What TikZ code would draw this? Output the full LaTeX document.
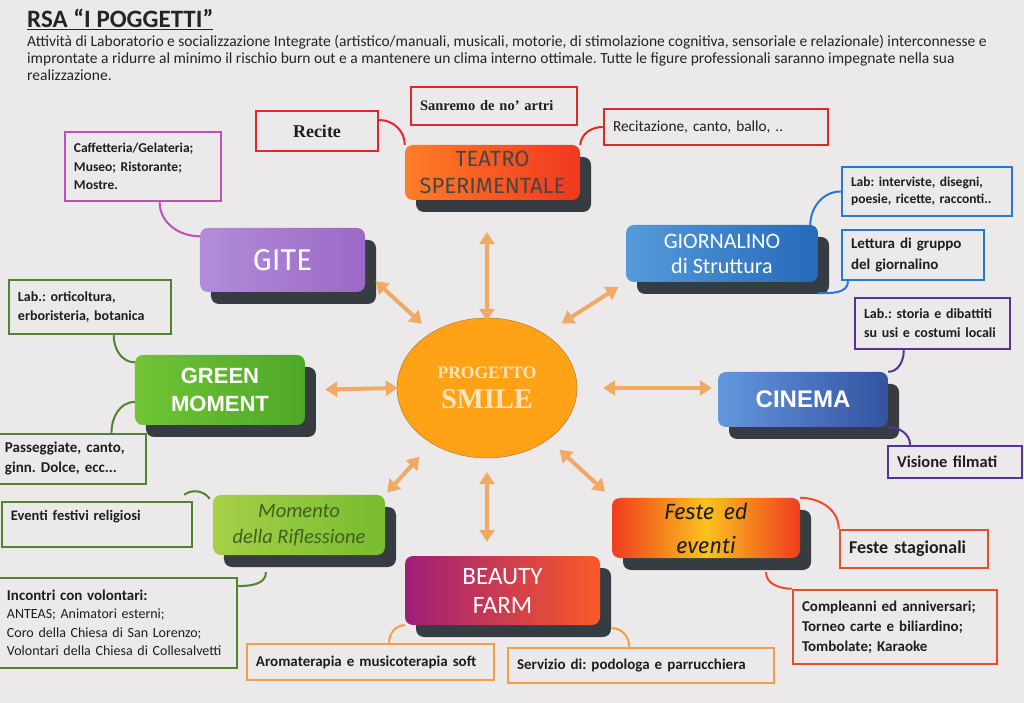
\documentclass[tikz,border=0pt]{standalone}
\usepackage{fontspec}
\setmainfont{Carlito}
\newfontfamily\timesf{Liberation Serif}
\newfontfamily\arialf{Liberation Sans}
\newfontfamily\comicf{Fira Sans}
\usepackage{tikz}
\usetikzlibrary{shapes.geometric, arrows.meta, shadows}
\frenchspacing

\definecolor{paper}{RGB}{236,233,234}
\definecolor{titletext}{RGB}{35,35,40}
\definecolor{notetext}{RGB}{30,30,30}
\definecolor{shadowgray}{RGB}{55,60,66}
\definecolor{hubfill}{RGB}{255,162,22}
\definecolor{hubline}{RGB}{170,110,50}
\definecolor{hubtext}{RGB}{253,228,192}
\definecolor{arroworange}{RGB}{240,170,100}
\definecolor{teatroL}{RGB}{255,125,40}
\definecolor{teatroR}{RGB}{240,55,30}
\definecolor{teatrotext}{RGB}{70,70,70}
\definecolor{giteL}{RGB}{178,140,218}
\definecolor{giteR}{RGB}{155,105,198}
\definecolor{giornaleL}{RGB}{85,155,218}
\definecolor{giornaleR}{RGB}{38,105,185}
\definecolor{greenL}{RGB}{112,196,52}
\definecolor{greenR}{RGB}{78,168,40}
\definecolor{cinemaL}{RGB}{98,152,222}
\definecolor{cinemaR}{RGB}{52,82,160}
\definecolor{momentoL}{RGB}{165,208,72}
\definecolor{momentoR}{RGB}{120,188,48}
\definecolor{momentotext}{RGB}{65,95,30}
\definecolor{festeL}{RGB}{240,60,30}
\definecolor{festeM}{RGB}{250,195,30}
\definecolor{beautyL}{RGB}{158,30,120}
\definecolor{beautyR}{RGB}{250,90,40}
\definecolor{notered}{RGB}{222,40,42}
\definecolor{notemagenta}{RGB}{192,80,180}
\definecolor{noteblue}{RGB}{40,120,210}
\definecolor{notepurple}{RGB}{90,50,150}
\definecolor{notegreen}{RGB}{80,130,50}
\definecolor{noteorangered}{RGB}{230,80,40}
\definecolor{noteorange}{RGB}{240,160,70}

\begin{document}
\begin{tikzpicture}[x=1pt, y=1pt, node distance=100pt]
\tikzstyle{hub} = [ellipse, minimum width=180pt, minimum height=140pt, fill=hubfill, draw=hubline, thin, text=hubtext, align=center, inner sep=0pt]
\tikzstyle{topic} = [rectangle, rounded corners=8pt, align=center, inner sep=2pt, drop shadow={shadow xshift=11pt, shadow yshift=-12pt, fill=shadowgray, opacity=1}]
\tikzstyle{note} = [rectangle, draw, line width=2.5pt, fill=paper, align=left, inner xsep=9pt, inner ysep=2pt, text=notetext]
\tikzstyle{arrow} = [line width=4pt, draw=arroworange, <->, >={Triangle[width=15pt,length=12pt]}]
\tikzstyle{link} = [line width=2pt]

\useasboundingbox [fill=paper] (-487,-315) rectangle (537,388);

\node (title) [anchor=base west, inner sep=0pt, text=titletext, font=\bfseries\fontsize{25}{27}\selectfont] at (-460,360) {\underline{RSA “I POGGETTI”}};
\node (intro) [anchor=north west, inner sep=0pt, align=left, text=titletext, font=\fontsize{15.5}{17}\selectfont] at (-460,353) {Attività di Laboratorio e socializzazione Integrate (artistico/manuali, musicali, motorie, di stimolazione cognitiva, sensoriale e relazionale) interconnesse e\\improntate a ridurre al minimo il rischio burn out e a mantenere un clima interno ottimale. Tutte le figure professionali saranno impegnate nella sua\\realizzazione.};

\node (smile) [hub, font=\timesf\bfseries\fontsize{28.5}{30}\selectfont] {{\fontsize{17.5}{18}\selectfont PROGETTO}\\SMILE};
\node (teatro) [topic, above of=smile, xshift=5.5pt, yshift=115.5pt, minimum width=175pt, minimum height=55pt, left color=teatroL, right color=teatroR, text=teatrotext, font=\comicf\fontsize{22}{27}\selectfont] {TEATRO\\SPERIMENTALE};
\node (gite) [topic, left of=smile, xshift=-104.5pt, yshift=128pt, minimum width=165pt, minimum height=64pt, left color=giteL, right color=giteR, text=white, font=\comicf\fontsize{30}{32}\selectfont] {GITE};
\node (giornalino) [topic, right of=smile, xshift=135pt, yshift=134.5pt, minimum width=192pt, minimum height=57pt, left color=giornaleL, right color=giornaleR, text=white, font=\fontsize{22}{25}\selectfont] {GIORNALINO\\di Struttura};
\node (green) [topic, left of=smile, xshift=-167pt, yshift=-2pt, minimum width=170pt, minimum height=70pt, left color=greenL, right color=greenR, text=white, font=\arialf\bfseries\fontsize{22}{28}\selectfont] {GREEN\\MOMENT};
\node (cinema) [topic, right of=smile, xshift=216pt, yshift=-11.5pt, minimum width=170pt, minimum height=55pt, left color=cinemaL, right color=cinemaR, text=white, font=\arialf\bfseries\fontsize{24}{26}\selectfont] {CINEMA};
\node (momento) [topic, left of=smile, xshift=-88pt, yshift=-137pt, minimum width=172pt, minimum height=60pt, left color=momentoL, right color=momentoR, text=momentotext, font=\itshape\fontsize{20.5}{26}\selectfont] {Momento\\della Riflessione};
\node (feste) [topic, right of=smile, xshift=119pt, yshift=-140pt, minimum width=188pt, minimum height=60pt, left color=festeL, right color=festeL, middle color=festeM, text=notetext, font=\comicf\itshape\fontsize{22}{34}\selectfont] {Feste\, ed\\eventi};
\node (beauty) [topic, below of=smile, xshift=15.5pt, yshift=-102.5pt, minimum width=195pt, minimum height=69pt, left color=beautyL, right color=beautyR, text=white, font=\fontsize{25}{29}\selectfont] {BEAUTY\\FARM};

\node (recite) [note, left of=teatro, xshift=-75.5pt, yshift=41.5pt, draw=notered, text width=104pt, minimum height=40pt, align=center, font=\timesf\bfseries\fontsize{18}{20}\selectfont] {Recite};
\node (sanremo) [note, above of=teatro, xshift=1.5pt, yshift=-33.5pt, draw=notered, text width=148pt, minimum height=38pt, font=\timesf\bfseries\fontsize{14.5}{16}\selectfont] {Sanremo de no’ artri};
\node (recitazione) [note, right of=teatro, xshift=123.5pt, yshift=45.5pt, draw=notered, text width=206pt, minimum height=36pt, font=\fontsize{15.3}{17}\selectfont] {Recitazione, canto, ballo, ..};
\node (caffetteria) [note, left of=gite, xshift=-39.5pt, yshift=93.5pt, draw=notemagenta, text width=138pt, minimum height=69pt, font=\bfseries\fontsize{13.5}{18.5}\selectfont] {Caffetteria/Gelateria;\\Museo; Ristorante;\\Mostre.};
\node (interviste) [note, right of=giornalino, xshift=105pt, yshift=62pt, draw=noteblue, text width=152pt, minimum height=49pt, font=\bfseries\fontsize{13.5}{17}\selectfont] {Lab: interviste, disegni,\\poesie, ricette, racconti..};
\node (lettura) [note, right of=giornalino, xshift=91pt, yshift=-1.5pt, draw=noteblue, text width=124pt, minimum height=50pt, font=\bfseries\fontsize{15}{21}\selectfont] {Lettura di gruppo\\del giornalino};
\node (storia) [note, right of=cinema, xshift=29.5pt, yshift=76pt, draw=notepurple, text width=137pt, minimum height=51pt, font=\bfseries\fontsize{14}{19}\selectfont] {Lab.: storia e dibattiti\\su usi e costumi locali};
\node (visione) [note, right of=cinema, xshift=52pt, yshift=-62.5pt, draw=notepurple, text width=116pt, minimum height=32pt, font=\bfseries\fontsize{16.5}{19}\selectfont] {Visione filmati};
\node (orticoltura) [note, left of=green, xshift=-30pt, yshift=83pt, draw=notegreen, text width=144pt, minimum height=54pt, font=\bfseries\fontsize{14}{19}\selectfont] {Lab.: orticoltura,\\erboristeria, botanica};
\node (passeggiate) [note, left of=green, xshift=-49pt, yshift=-69pt, draw=notegreen, text width=132pt, minimum height=50pt, font=\bfseries\fontsize{15}{20}\selectfont] {Passeggiate, canto,\\ginn. Dolce, ecc...};
\node (eventi) [note, left of=momento, xshift=-102pt, yshift=0.5pt, draw=notegreen, text width=172pt, minimum height=45pt, font=\bfseries\fontsize{14.5}{18}\selectfont] {Eventi festivi religiosi\\\mbox{}};
\node (incontri) [note, left of=momento, xshift=-81.5pt, yshift=-98pt, draw=notegreen, text width=221pt, minimum height=90pt, font=\fontsize{14}{18.5}\selectfont] {{\bfseries\fontsize{15}{18.5}\selectfont Incontri con volontari:}\\ANTEAS; Animatori esterni;\\Coro della Chiesa di San Lorenzo;\\Volontari della Chiesa di Collesalvetti};
\node (stagionali) [note, right of=feste, xshift=108pt, yshift=-21pt, draw=noteorangered, text width=130pt, minimum height=38pt, font=\bfseries\fontsize{18}{20}\selectfont] {Feste stagionali};
\node (compleanni) [note, right of=feste, xshift=89pt, yshift=-99pt, draw=noteorangered, text width=186pt, minimum height=74pt, font=\bfseries\fontsize{15}{20}\selectfont] {Compleanni ed anniversari;\\Torneo carte e biliardino;\\Tombolate; Karaoke};
\node (aroma) [note, left of=beauty, xshift=-32pt, yshift=-71.5pt, draw=noteorange, text width=229pt, minimum height=36pt, font=\bfseries\fontsize{15}{17}\selectfont] {Aromaterapia e musicoterapia soft};
\node (servizio) [note, right of=beauty, xshift=38.5pt, yshift=-75pt, draw=noteorange, text width=248pt, minimum height=35pt, font=\bfseries\fontsize{15}{17}\selectfont] {Servizio di: podologa e parrucchiera};

\draw [arrow, shorten <=32pt, shorten >=-3pt] (teatro.south -| smile.north) -- (smile.north);
\draw [arrow, shorten <=14pt, shorten >=13pt] (gite.-8) -- (smile.135);
\draw [arrow, shorten <=9pt, shorten >=20pt] (giornalino.south west) -- (smile.43);
\draw [arrow, shorten <=20pt, shorten >=-1pt] (green.east) -- (smile.west);
\draw [arrow, shorten <=26pt, shorten >=6pt] (smile.east) -- (smile.east -| cinema.west);
\draw [arrow, shorten <=3pt, shorten >=18pt] (momento.north east) -- (smile.225);
\draw [arrow, shorten <=15pt, shorten >=9pt] (smile.-40) -- (feste.north west);
\draw [arrow, shorten <=14pt, shorten >=14pt] (smile.south) -- (beauty.north -| smile.south);

\draw [link, draw=notered] (recite.10) to [out=0, in=90] (teatro.north west);
\draw [link, draw=notered] (teatro.north east) to [out=85, in=180] (recitazione.west);
\draw [link, draw=notemagenta] (caffetteria.-65) to [out=-90, in=180] (gite.164);
\draw [link, draw=noteblue] (giornalino.18) to [out=90, in=180] (interviste.west);
\draw [link, draw=noteblue] ([yshift=-11pt]giornalino.south east) to [out=0, in=-90] (lettura.202);
\draw [link, draw=notepurple] (cinema.north east) to [out=0, in=-90] (storia.223);
\draw [link, draw=notepurple] (cinema.south east) to [out=0, in=90] (visione.159);
\draw [link, draw=notegreen] (orticoltura.-50) to [out=-90, in=180] (green.162);
\draw [link, draw=notegreen] (green.188) to [out=180, in=90] (passeggiate.33);
\draw [link, draw=notegreen] ([xshift=-9pt, yshift=6pt]eventi.north east) to [bend left=45] ([xshift=-3pt, yshift=-4pt]momento.north west);
\draw [link, draw=notegreen] ([xshift=-33pt, yshift=-17pt]momento.south) to [out=-90, in=0] (incontri.17);
\draw [link, draw=noteorangered] (feste.north east) to [out=0, in=90] (stagionali.north west);
\draw [link, draw=noteorangered] ([xshift=60pt, yshift=-14pt]feste.south) to [out=-90, in=180] (compleanni.north west);
\draw [link, draw=noteorange] (beauty.south west) to [out=180, in=90] (aroma.46);
\draw [link, draw=noteorange] ([xshift=12pt, yshift=-3pt]beauty.south east) to [out=0, in=90] (servizio.122);
\end{tikzpicture}
\end{document}
